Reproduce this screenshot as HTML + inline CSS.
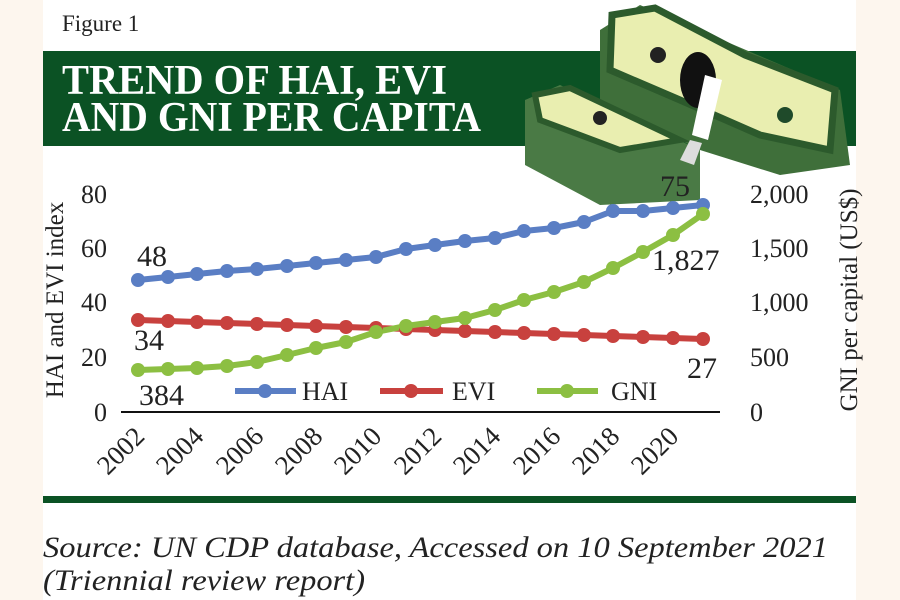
<!DOCTYPE html>
<html><head><meta charset="utf-8"><style>
body{margin:0;background:#fdf6ee;}
svg{display:block;font-family:"Liberation Serif",serif;}
</style></head><body>
<svg width="900" height="600" viewBox="0 0 900 600">
<rect x="0" y="0" width="900" height="600" fill="#fdf6ee"/>
<rect x="43" y="0" width="813" height="600" fill="#ffffff"/>
<text x="62" y="31" font-size="23" fill="#222">Figure 1</text>
<rect x="43" y="51" width="813" height="95" fill="#0b5224"/>
<g fill="#fff" font-weight="bold" font-size="42">
<text x="62" y="94" textLength="385" lengthAdjust="spacingAndGlyphs">TREND OF HAI, EVI</text>
<text x="62" y="131" textLength="419" lengthAdjust="spacingAndGlyphs">AND GNI PER CAPITA</text>
</g>
<!-- money -->
<g>
<polygon points="525,100 560,85 700,150 700,200 600,205 525,165" fill="#4a7a45"/>
<polygon points="600,30 640,5 840,90 850,165 780,175 700,150 600,100" fill="#3f6f3a"/>
<polygon points="612,15 655,8 745,55 835,90 830,150 760,135 680,100 610,70" fill="#e9eeb0" stroke="#2c5a2c" stroke-width="7"/>
<polygon points="535,95 570,88 680,140 620,150 540,120" fill="#e9eeb0" stroke="#2c5a2c" stroke-width="6"/>
<circle cx="600" cy="118" r="7" fill="#222"/>
<circle cx="658" cy="55" r="8" fill="#222"/>
<circle cx="785" cy="115" r="8" fill="#1f4a2a"/>
<ellipse cx="698" cy="80" rx="18" ry="28" fill="#111"/>
<polygon points="705,75 722,80 708,140 692,135" fill="#fff"/>
<polygon points="690,140 702,143 694,165 680,160" fill="#ddd"/>
</g>
<!-- axes -->
<line x1="121" y1="412" x2="720" y2="412" stroke="#111" stroke-width="2"/>
<g font-size="26" fill="#222" text-anchor="end">
<text x="107" y="203">80</text><text x="107" y="257">60</text><text x="107" y="311">40</text><text x="107" y="366">20</text><text x="107" y="421">0</text>
</g>
<g font-size="26" fill="#222" text-anchor="start">
<text x="750" y="203">2,000</text><text x="750" y="257">1,500</text><text x="750" y="311">1,000</text><text x="750" y="366">500</text><text x="750" y="421">0</text>
</g>
<text transform="translate(63 300) rotate(-90)" font-size="25" text-anchor="middle" fill="#222">HAI and EVI index</text>
<text transform="translate(857 300) rotate(-90)" font-size="25" text-anchor="middle" fill="#222">GNI per capital (US$)</text>
<g font-size="27" fill="#222" text-anchor="end">
<text transform="translate(146 438) rotate(-45)">2002</text>
<text transform="translate(205 438) rotate(-45)">2004</text>
<text transform="translate(265 438) rotate(-45)">2006</text>
<text transform="translate(324 438) rotate(-45)">2008</text>
<text transform="translate(383 438) rotate(-45)">2010</text>
<text transform="translate(443 438) rotate(-45)">2012</text>
<text transform="translate(502 438) rotate(-45)">2014</text>
<text transform="translate(562 438) rotate(-45)">2016</text>
<text transform="translate(621 438) rotate(-45)">2018</text>
<text transform="translate(680 438) rotate(-45)">2020</text>
</g>
<g stroke-width="6" fill="none" stroke-linejoin="round">
<polyline stroke="#5a7ec4" points="138,280 168,277 197,274 227,271 257,269 287,266 316,263 346,260 376,257 406,249 435,245 465,241 495,238 524,231 554,228 584,222 613,211 643,211 673,208 703,205"/>
<polyline stroke="#c8413e" points="138,320 168,321 197,322 227,323 257,324 287,325 316,326 346,327 376,328 406,329 435,330 465,331 495,332 524,333 554,334 584,335 613,336 643,337 673,338 703,339"/>
<polyline stroke="#8cbf42" points="138,370 168,369 197,368 227,366 257,362 287,355 316,348 346,342 376,332 406,326 435,322 465,318 495,310 524,300 554,292 584,282 613,268 643,252 673,235 703,214"/>
</g>
<g fill="#5a7ec4"><circle cx="138" cy="280" r="7"/><circle cx="168" cy="277" r="7"/><circle cx="197" cy="274" r="7"/><circle cx="227" cy="271" r="7"/><circle cx="257" cy="269" r="7"/><circle cx="287" cy="266" r="7"/><circle cx="316" cy="263" r="7"/><circle cx="346" cy="260" r="7"/><circle cx="376" cy="257" r="7"/><circle cx="406" cy="249" r="7"/><circle cx="435" cy="245" r="7"/><circle cx="465" cy="241" r="7"/><circle cx="495" cy="238" r="7"/><circle cx="524" cy="231" r="7"/><circle cx="554" cy="228" r="7"/><circle cx="584" cy="222" r="7"/><circle cx="613" cy="211" r="7"/><circle cx="643" cy="211" r="7"/><circle cx="673" cy="208" r="7"/><circle cx="703" cy="205" r="7"/></g>
<g fill="#c8413e"><circle cx="138" cy="320" r="7"/><circle cx="168" cy="321" r="7"/><circle cx="197" cy="322" r="7"/><circle cx="227" cy="323" r="7"/><circle cx="257" cy="324" r="7"/><circle cx="287" cy="325" r="7"/><circle cx="316" cy="326" r="7"/><circle cx="346" cy="327" r="7"/><circle cx="376" cy="328" r="7"/><circle cx="406" cy="329" r="7"/><circle cx="435" cy="330" r="7"/><circle cx="465" cy="331" r="7"/><circle cx="495" cy="332" r="7"/><circle cx="524" cy="333" r="7"/><circle cx="554" cy="334" r="7"/><circle cx="584" cy="335" r="7"/><circle cx="613" cy="336" r="7"/><circle cx="643" cy="337" r="7"/><circle cx="673" cy="338" r="7"/><circle cx="703" cy="339" r="7"/></g>
<g fill="#8cbf42"><circle cx="138" cy="370" r="7"/><circle cx="168" cy="369" r="7"/><circle cx="197" cy="368" r="7"/><circle cx="227" cy="366" r="7"/><circle cx="257" cy="362" r="7"/><circle cx="287" cy="355" r="7"/><circle cx="316" cy="348" r="7"/><circle cx="346" cy="342" r="7"/><circle cx="376" cy="332" r="7"/><circle cx="406" cy="326" r="7"/><circle cx="435" cy="322" r="7"/><circle cx="465" cy="318" r="7"/><circle cx="495" cy="310" r="7"/><circle cx="524" cy="300" r="7"/><circle cx="554" cy="292" r="7"/><circle cx="584" cy="282" r="7"/><circle cx="613" cy="268" r="7"/><circle cx="643" cy="252" r="7"/><circle cx="673" cy="235" r="7"/><circle cx="703" cy="214" r="7"/></g>
<g font-size="30" fill="#222">
<text x="137" y="266">48</text>
<text x="660" y="196">75</text>
<text x="134" y="350">34</text>
<text x="687" y="378">27</text>
<text x="139" y="405">384</text>
<text x="652" y="270">1,827</text>
</g>
<g stroke-width="6">
<line x1="235" y1="391" x2="296" y2="391" stroke="#5a7ec4"/><circle cx="265" cy="391" r="7" fill="#5a7ec4"/>
<line x1="380" y1="391" x2="443" y2="391" stroke="#c8413e"/><circle cx="411" cy="391" r="7" fill="#c8413e"/>
<line x1="537" y1="391" x2="598" y2="391" stroke="#8cbf42"/><circle cx="567" cy="391" r="7" fill="#8cbf42"/>
</g>
<g font-size="26" fill="#222">
<text x="302" y="400">HAI</text><text x="452" y="400">EVI</text><text x="611" y="400">GNI</text>
</g>
<rect x="43" y="496" width="813" height="7" fill="#0b5224"/>
<g font-size="30" font-style="italic" fill="#222">
<text x="43" y="557" textLength="785" lengthAdjust="spacingAndGlyphs">Source: UN CDP database, Accessed on 10 September 2021</text>
<text x="43" y="590" textLength="322" lengthAdjust="spacingAndGlyphs">(Triennial review report)</text>
</g>
</svg>
</body></html>
